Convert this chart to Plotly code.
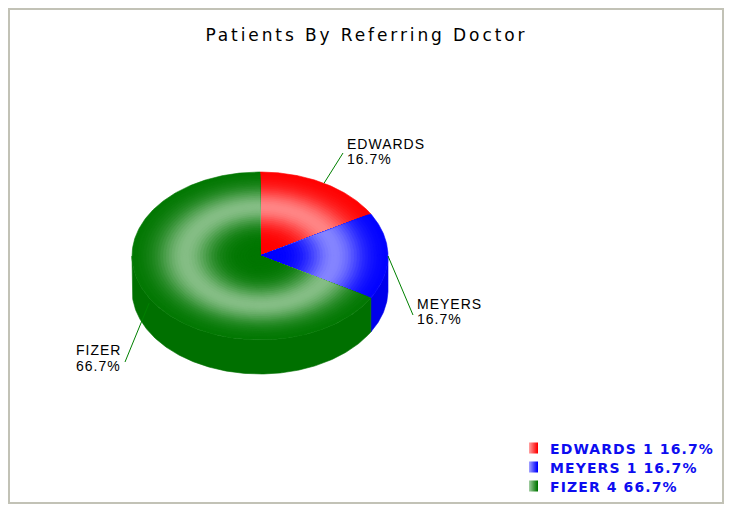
import numpy as np
import plotly.graph_objects as go

# ---------------- data ----------------
title = "Patients By Referring Doctor"
doctors = ["EDWARDS", "MEYERS", "FIZER"]
patients = [1, 1, 4]

# ---------------- styles ----------------
base_rgb = [(255, 0, 0), (0, 0, 255), (0, 118, 0)]
side_rgb = [(230, 0, 0), (0, 0, 235), (0, 112, 0)]
line_color = "rgb(0,128,0)"
legend_text_color = "#0d0df0"

W, H = 730, 518
CX, CY, RX, RY, DEPTH = 260, 256, 128, 84, 34
START_ANGLE = 90
N_RINGS = 45

# label layout: (line end x, line end y, text left x, text line1 y, text line2 y)
label_layout = {
    "EDWARDS": (343, 153, 345, 143.5, 159),
    "MEYERS": (413, 315, 415, 303.5, 319),
    "FIZER": (125, 362, 74, 350, 365.5),
}

total = sum(patients)
pct = [100.0 * v / total for v in patients]
spans = [360.0 * v / total for v in patients]
starts = [START_ANGLE - sum(spans[:i]) for i in range(len(spans))]
ends = [s - sp for s, sp in zip(starts, spans)]


def arc(t0, t1, s=1.0, dy=0.0):
    n = max(10, int(abs(t1 - t0) * 1.5))
    t = np.radians(np.linspace(t0, t1, n))
    return CX + s * RX * np.cos(t), CY + dy - s * RY * np.sin(t)


def rgb(c):
    return "rgb(%d,%d,%d)" % tuple(int(round(v)) for v in c)


def mix_white(c, f):
    return tuple(v + (255 - v) * f for v in c)


def light(s):
    return 0.52 * np.exp(-((s - 0.58) / 0.21) ** 2)


fig = go.Figure()

# ---- side walls (front, visible half: -180..0) ----
for i in range(len(doctors)):
    for k in (-1, 0, 1):
        a = max(ends[i] + 360 * k, -180)
        b = min(starts[i] + 360 * k, 0)
        if a < b:
            xt, yt = arc(b, a)
            xb, yb = arc(a, b, dy=DEPTH)
            xs = np.concatenate([xt, xb, xt[:1]])
            ys = np.concatenate([yt, yb, yt[:1]])
            fig.add_trace(go.Scatter(x=xs, y=ys, mode="lines", fill="toself",
                                     fillcolor=rgb(side_rgb[i]),
                                     line=dict(color=rgb(side_rgb[i]), width=0.6),
                                     hoverinfo="skip", showlegend=False))

# ---- top faces with radial shading ----
for i in range(len(doctors)):
    for k in range(N_RINGS):
        s = 1.0 - k / N_RINGS
        col = rgb(mix_white(base_rgb[i], light(s - 0.5 / N_RINGS)))
        xa, ya = arc(starts[i], ends[i], s=s)
        xs = np.concatenate([[CX], xa, [CX]])
        ys = np.concatenate([[CY], ya, [CY]])
        fig.add_trace(go.Scatter(x=xs, y=ys, mode="lines", fill="toself",
                                 fillcolor=col, line=dict(color=col, width=0.6),
                                 hoverinfo="skip", showlegend=False))

# ---- leader lines and labels ----
annotations = []
for i, name in enumerate(doctors):
    mid = (starts[i] + ends[i]) / 2.0
    t = np.radians(mid)
    sx = CX + RX * np.cos(t)
    sy = CY - RY * np.sin(t) + DEPTH * max(0.0, -np.sin(t)) * 0.3
    ex, ey, tx, ty1, ty2 = label_layout[name]
    fig.add_trace(go.Scatter(x=[sx, ex], y=[sy, ey], mode="lines",
                             line=dict(color=line_color, width=1),
                             hoverinfo="skip", showlegend=False))
    for txt, ty in ((name, ty1), ("%.1f%%" % pct[i], ty2)):
        annotations.append(dict(x=tx, y=ty, xref="x", yref="y", text=txt,
                                showarrow=False, xanchor="left", yanchor="middle",
                                align="left",
                                font=dict(family="Liberation Sans", size=14, color="black")))

# ---- title ----
annotations.append(dict(x=366, y=35, xref="x", yref="y", text=title, showarrow=False,
                        xanchor="center", yanchor="middle",
                        font=dict(family="DejaVu Sans", size=17, color="black")))

# ---- legend ----
shapes = [dict(type="rect", xref="x", yref="y", x0=9, y0=9, x1=723, y1=503,
               line=dict(color="#c2c2b6", width=2), layer="below")]
LEG_X, LEG_Y, LEG_DY = 529, 448, 19
for i, name in enumerate(doctors):
    yc = LEG_Y + LEG_DY * i
    nstrip = 9
    for j in range(nstrip):
        f = 0.6 * (1 - j / (nstrip - 1))
        shapes.append(dict(type="rect", xref="x", yref="y",
                           x0=LEG_X + j, x1=LEG_X + j + 1, y0=yc - 5.5, y1=yc + 5.5,
                           fillcolor=rgb(mix_white(base_rgb[i], f)), line=dict(width=0),
                           layer="above"))
    annotations.append(dict(x=LEG_X + 19, y=yc + 0.5, xref="x", yref="y",
                            text="%s %d %.1f%%" % (name, patients[i], pct[i]),
                            showarrow=False, xanchor="left", yanchor="middle", align="left",
                            font=dict(family="DejaVu Sans", size=14, color=legend_text_color,
                                      weight="bold")))

fig.update_layout(
    width=W, height=H,
    margin=dict(l=0, r=0, t=0, b=0),
    paper_bgcolor="white", plot_bgcolor="white",
    xaxis=dict(range=[0, W], visible=False, fixedrange=True),
    yaxis=dict(range=[H, 0], visible=False, fixedrange=True),
    showlegend=False,
    annotations=annotations,
    shapes=shapes,
)

js = """
document.body.style.margin='0';
var gd=document.getElementById('{plot_id}');
gd.querySelectorAll('text.annotation-text').forEach(function(t){
  var fs=parseFloat(t.style.fontSize); var fw=t.style.fontWeight;
  if(fw==='bold'||fw==='700'){t.style.letterSpacing='1.1px';}
  else if(fs>16){t.style.letterSpacing='2.9px';}
  else {t.style.letterSpacing='1px';}
});
"""

fig.write_html("out.html", config={"displayModeBar": False}, post_script=js)
